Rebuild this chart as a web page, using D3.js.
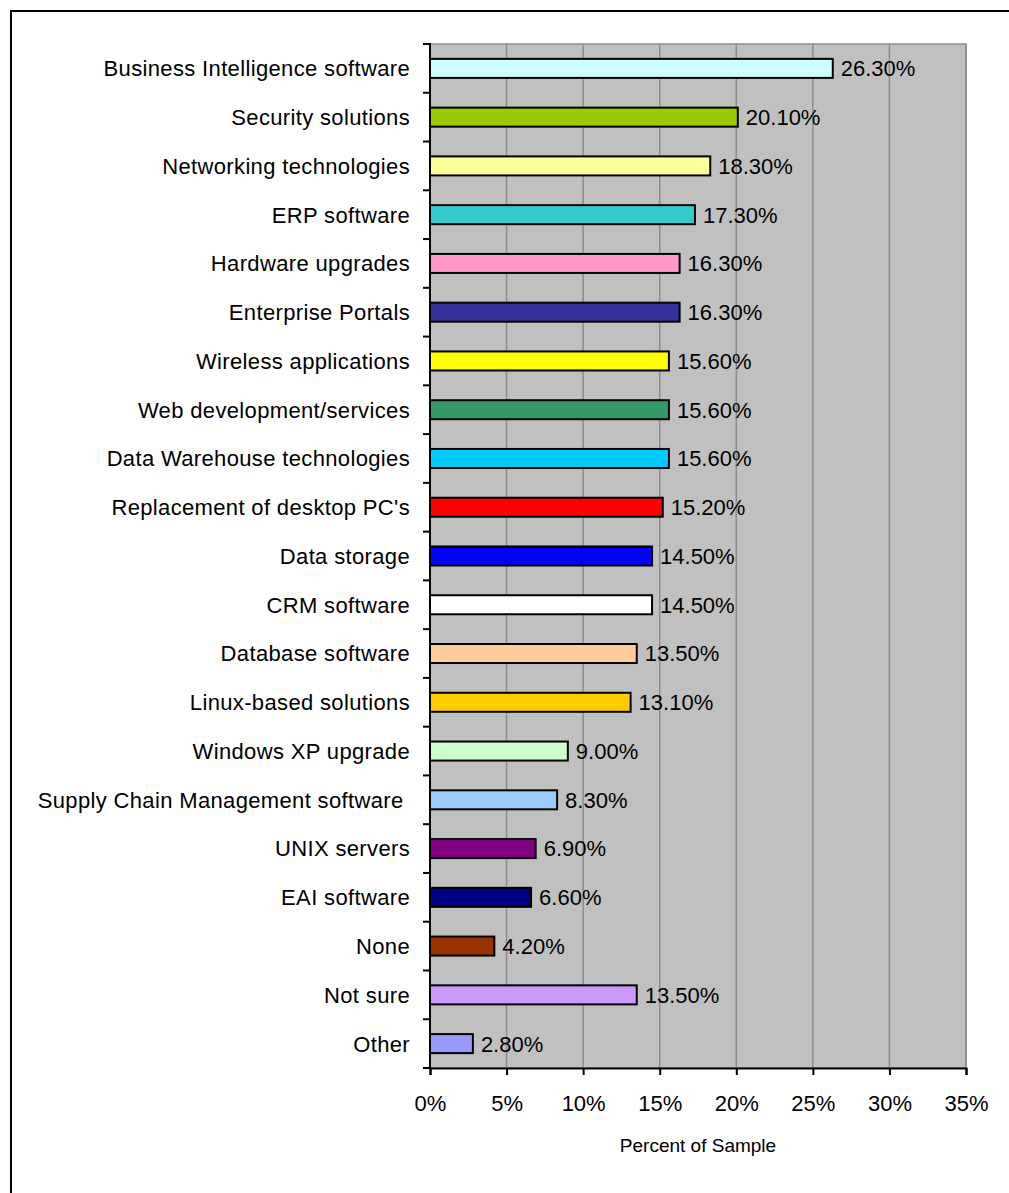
<!DOCTYPE html>
<html>
<head>
<meta charset="utf-8">
<script src="https://cdn.jsdelivr.net/npm/d3@7"></script>
<style>
  html, body { margin: 0; padding: 0; background: #fff; }
  svg { display: block; }
  text { font-family: "Liberation Sans", Arial, sans-serif; fill: #000; }
</style>
</head>
<body>
<svg id="chart" width="1009" height="1193"></svg>
<script>
// Technology spending priorities, share of respondents
const categories = [
  "Business Intelligence software",
  "Security solutions",
  "Networking technologies",
  "ERP software",
  "Hardware upgrades",
  "Enterprise Portals",
  "Wireless applications",
  "Web development/services",
  "Data Warehouse technologies",
  "Replacement of desktop PC's",
  "Data storage",
  "CRM software",
  "Database software",
  "Linux-based solutions",
  "Windows XP upgrade",
  "Supply Chain Management software\u00a0",
  "UNIX servers",
  "EAI software",
  "None",
  "Not sure",
  "Other"
];
const values = [26.3, 20.1, 18.3, 17.3, 16.3, 16.3, 15.6, 15.6, 15.6, 15.2, 14.5,
                14.5, 13.5, 13.1, 9.0, 8.3, 6.9, 6.6, 4.2, 13.5, 2.8];
const barColors = [
  "#CCFFFF", "#99CC00", "#FFFF99", "#33CCCC", "#FF99CC", "#333399", "#FFFF00",
  "#339966", "#00CCFF", "#FF0000", "#0000FF", "#FFFFFF", "#FFCC99", "#FFCC00",
  "#CCFFCC", "#99CCFF", "#800080", "#000080", "#993300", "#CC99FF", "#9999FF"
];
const xTicks = [0, 5, 10, 15, 20, 25, 30, 35];
const axisTitle = "Percent of Sample";

const data = categories.map((c, i) => ({ category: c, value: values[i], color: barColors[i] }));

const svg = d3.select("#chart");
const plot = { left: 430, right: 966, top: 44, bottom: 1068 };

// Outer frame (top and left edges)
svg.append("path")
  .attr("d", "M11,1193 V11 H1009")
  .attr("fill", "none")
  .attr("stroke", "#000")
  .attr("stroke-width", 2);

const x = d3.scaleLinear().domain([0, 35]).range([plot.left, plot.right]);
const y = d3.scaleBand().domain(categories).range([plot.top, plot.bottom]).paddingInner(0.61).paddingOuter(0.305);

// Plot area background
svg.append("rect")
  .attr("x", plot.left).attr("y", plot.top)
  .attr("width", plot.right - plot.left).attr("height", plot.bottom - plot.top)
  .attr("fill", "#C0C0C0")
  .attr("stroke", "#8C8C8C")
  .attr("stroke-width", 1.5);

// Vertical gridlines
svg.append("g")
  .selectAll("line")
  .data(xTicks.slice(1))
  .join("line")
  .attr("x1", d => x(d)).attr("x2", d => x(d))
  .attr("y1", plot.top).attr("y2", plot.bottom)
  .attr("stroke", "#8C8C8C")
  .attr("stroke-width", 1.5);

// Bars
svg.append("g")
  .selectAll("rect")
  .data(data)
  .join("rect")
  .attr("x", x(0))
  .attr("y", d => y(d.category))
  .attr("width", d => x(d.value) - x(0))
  .attr("height", y.bandwidth())
  .attr("fill", d => d.color)
  .attr("stroke", "#000")
  .attr("stroke-width", 2);

// Value labels
svg.append("g")
  .selectAll("text")
  .data(data)
  .join("text")
  .attr("x", d => x(d.value) + 8)
  .attr("y", d => y(d.category) + y.bandwidth() / 2)
  .attr("dy", "0.36em")
  .attr("font-size", 22)
  .text(d => d.value.toFixed(2) + "%");

// Category axis: boundary ticks on the left, labels centred on each band
const yBoundary = d3.range(categories.length + 1).map(i => plot.top + i * (plot.bottom - plot.top) / categories.length);
const yAxis = svg.append("g");
yAxis.selectAll("line.tick")
  .data(yBoundary)
  .join("line")
  .attr("class", "tick")
  .attr("x1", plot.left - 7).attr("x2", plot.left)
  .attr("y1", d => d).attr("y2", d => d)
  .attr("stroke", "#000").attr("stroke-width", 2);
yAxis.selectAll("text")
  .data(categories)
  .join("text")
  .attr("x", plot.left - 20)
  .attr("y", d => y(d) + y.bandwidth() / 2)
  .attr("dy", "0.36em")
  .attr("text-anchor", "end")
  .attr("font-size", 22)
  .attr("letter-spacing", "0.35px")
  .style("white-space", "pre")
  .text(d => d);
yAxis.append("line")
  .attr("x1", plot.left).attr("x2", plot.left)
  .attr("y1", plot.top - 1).attr("y2", plot.bottom + 1)
  .attr("stroke", "#000").attr("stroke-width", 2);

// Value axis
const xAxis = d3.axisBottom(x)
  .tickValues(xTicks)
  .tickSize(7)
  .tickPadding(20)
  .tickFormat(d => d + "%");
const xg = svg.append("g")
  .attr("transform", `translate(0,${plot.bottom})`)
  .call(xAxis);
xg.select(".domain").attr("stroke", "#000").attr("stroke-width", 2);
xg.selectAll(".tick line").attr("stroke", "#000").attr("stroke-width", 2);
xg.selectAll(".tick text")
  .attr("font-size", 22)
  .attr("font-family", "Liberation Sans, Arial, sans-serif")
  .attr("fill", "#000");

svg.append("text")
  .attr("x", (plot.left + plot.right) / 2)
  .attr("y", 1152)
  .attr("text-anchor", "middle")
  .attr("font-size", 19)
  .text(axisTitle);
</script>
</body>
</html>
